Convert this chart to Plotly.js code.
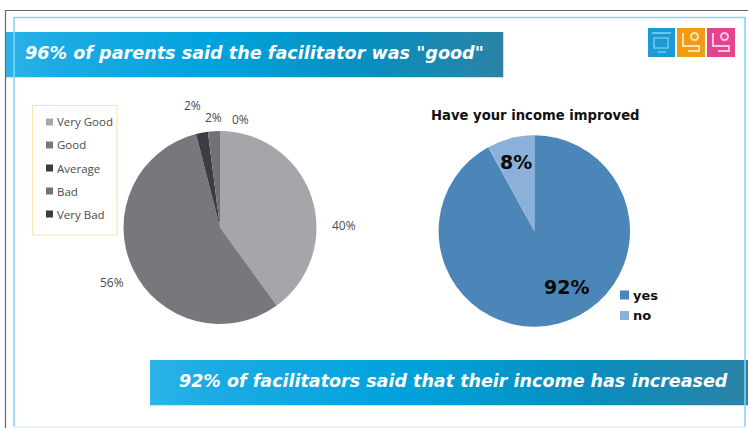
<!DOCTYPE html>
<html>
<head>
<meta charset="utf-8">
<script src="https://cdn.plot.ly/plotly-3.0.1.min.js"></script>
<style>html,body{margin:0;padding:0;background:#fff}#chart{width:748px;height:428px}</style>
</head>
<body>
<div id="chart"></div>
<script>
// Data
const ratingLabels = ["Very Good", "Good", "Average", "Bad", "Very Bad"];
const ratingValues = [40, 56, 2, 2, 0];
const ratingColors = ["#a6a6aa", "#77777c", "#3c3c42", "#717176", "#3c3c42"];
const incomeLabels = ["yes", "no"];
const incomeValues = [92, 8];
const incomeColors = ["#4c86b8", "#8bb0da"];
const topHeadline = '96% of parents said the facilitator was "good"';
const bottomHeadline = "92% of facilitators said that their income has increased";
const incomeTitle = "Have your income improved";

// Layout helpers (pixels to paper fractions)
const W = 748, H = 428;
const px = x => x / W, py = y => 1 - y / H;
const dom = (cx, cy, r) => ({x: [px(cx - r), px(cx + r)], y: [py(cy + r), py(cy - r)]});
const rect = (x0, y0, x1, y1, fill, line, lw) => ({type: "rect", xref: "paper", yref: "paper", layer: "below",
  x0: px(x0), x1: px(x1), y0: py(y0), y1: py(y1), fillcolor: fill || "rgba(0,0,0,0)", line: {color: line || "rgba(0,0,0,0)", width: lw || 0}});
const seg = (pts, color, lw, layer) => ({type: "path", xref: "paper", yref: "paper", layer: layer || "above",
  path: pts.map((p, i) => (i ? "L" : "M") + px(p[0]) + "," + py(p[1])).join(" "), line: {color: color, width: lw}});
const text = (x, y, t, size, color, family, anchor, bold) => ({xref: "paper", yref: "paper", x: px(x), y: py(y), text: bold ? "<b>" + t + "</b>" : t,
  showarrow: false, xanchor: anchor || "center", yanchor: "middle", borderpad: 0, font: {size: size, color: color, family: family}});
const gradient = (id, stops) => "data:image/svg+xml;utf8," + encodeURIComponent(
  '<svg xmlns="http://www.w3.org/2000/svg" width="100" height="10" preserveAspectRatio="none"><defs><linearGradient id="' + id + '">' +
  stops.map(s => '<stop offset="' + s[0] + '" stop-color="' + s[1] + '"/>').join("") +
  '</linearGradient></defs><rect width="100" height="10" fill="url(#' + id + ')"/></svg>');
const stops = [[0, "#2cb3e8"], [0.1, "#1cabe4"], [0.42, "#00a2dd"], [0.72, "#078fbf"], [1, "#2b82a6"]];
const banner = (x0, y0, x1, y1, id) => ({source: gradient(id, stops), xref: "paper", yref: "paper", x: px(x0), y: py(y0),
  sizex: px(x1 - x0), sizey: (y1 - y0) / H, sizing: "stretch", xanchor: "left", yanchor: "top", layer: "below"});

const sans = "'DejaVu Sans', Verdana, sans-serif";
const soft = "'Open Sans', 'Noto Sans', sans-serif";

const traces = [
  {type: "pie", labels: ratingLabels, values: ratingValues, sort: false, direction: "clockwise", rotation: 0,
   marker: {colors: ratingColors, line: {width: 0}}, textinfo: "none", hoverinfo: "label+percent", showlegend: false, domain: dom(220, 227.5, 96.5)},
  {type: "pie", labels: incomeLabels, values: incomeValues, sort: false, direction: "clockwise", rotation: 0,
   marker: {colors: incomeColors, line: {width: 0}}, textinfo: "none", hoverinfo: "label+percent", showlegend: false, domain: dom(534.3, 231, 95.7)}
];

// Frame, legend boxes and logos
const shapes = [
  seg([[5.5, 428], [5.5, 10.5], [748, 10.5]], "#666666", 1.2, "below"),
  seg([[14, 427], [14, 17.5], [745, 17.5], [745, 427]], "#7fd9f9", 1.6, "below"),
  seg([[14, 427], [745, 427]], "#c4ecfa", 1.2, "below"),
  rect(32.5, 105.5, 117, 235, "#ffffff", "#fbe4b4", 1.2)
];

const legendYs = [122, 145, 168, 191, 214];
ratingLabels.forEach((_, i) => shapes.push(rect(46, legendYs[i] - 3.5, 53, legendYs[i] + 3.5, ratingColors[i])));
const incomeLegendYs = [295, 315.5];
incomeLabels.forEach((_, i) => shapes.push(rect(620, incomeLegendYs[i] - 4.5, 629, incomeLegendYs[i] + 4.5, incomeColors[i])));

shapes.push(rect(648, 28, 675, 57, "#1b9ad6"), rect(677, 28, 705, 57, "#f49b14"), rect(707, 28, 735, 57, "#e6438e"));
shapes.push(
  seg([[652, 33], [671, 33]], "#6cc8ec", 2),
  seg([[654, 38], [668, 38], [668, 48], [654, 48], [654, 38]], "#6cc8ec", 1.6),
  seg([[658, 52], [666, 52]], "#6cc8ec", 1.6),
  seg([[683, 33], [683, 46], [699, 46], [699, 51], [688, 51]], "#ffe4b0", 2),
  seg([[713, 33], [713, 46], [729, 46], [729, 51], [718, 51]], "#fbc6dd", 2),
  {type: "circle", xref: "paper", yref: "paper", x0: px(691), x1: px(698), y0: py(40), y1: py(33), fillcolor: "rgba(0,0,0,0)", line: {color: "#ffe4b0", width: 2}},
  {type: "circle", xref: "paper", yref: "paper", x0: px(721), x1: px(728), y0: py(40), y1: py(33), fillcolor: "rgba(0,0,0,0)", line: {color: "#fbc6dd", width: 2}}
);

// Text
const pctColor = "#4a4a4a";
const annotations = [
  text(343.5, 225, ratingValues[0] + "%", 12, pctColor, soft),
  text(112, 282, ratingValues[1] + "%", 12, pctColor, soft),
  text(193, 105.5, ratingValues[2] + "%", 12, pctColor, soft),
  text(214, 117, ratingValues[3] + "%", 12, pctColor, soft),
  text(240, 119.5, ratingValues[4] + "%", 12, pctColor, soft),
  text(566.5, 287, incomeValues[0] + "%", 19, "#0a0a0a", sans, "center", true),
  text(516, 162, incomeValues[1] + "%", 19, "#0a0a0a", sans, "center", true),
  text(535.5, 115, incomeTitle, 13.2, "#111111", sans, "center", true),
  text(178, 381, "<i>" + bottomHeadline + "</i>", 17.5, "#ffffff", sans, "left", true)
];
ratingLabels.forEach((l, i) => annotations.push(text(56, legendYs[i], l, 11.5, pctColor, soft, "left")));
incomeLabels.forEach((l, i) => annotations.push(text(632, incomeLegendYs[i], l, 13, "#111111", sans, "left", true)));

const layout = {
  width: W, height: H, margin: {l: 0, r: 0, t: 0, b: 0}, paper_bgcolor: "#ffffff", showlegend: false,
  title: {text: "<i>" + topHeadline + "</i>", x: px(25), xanchor: "left", y: py(53), yanchor: "middle", xref: "paper", yref: "paper",
          font: {family: sans, size: 17.6, color: "#ffffff", weight: "bold"}},
  shapes: shapes, annotations: annotations,
  images: [banner(5, 32, 503.5, 77.5, "g1"), banner(150, 360, 748, 405.5, "g2")]
};
Plotly.newPlot("chart", traces, layout, {displayModeBar: false, staticPlot: true});
</script>
</body>
</html>
